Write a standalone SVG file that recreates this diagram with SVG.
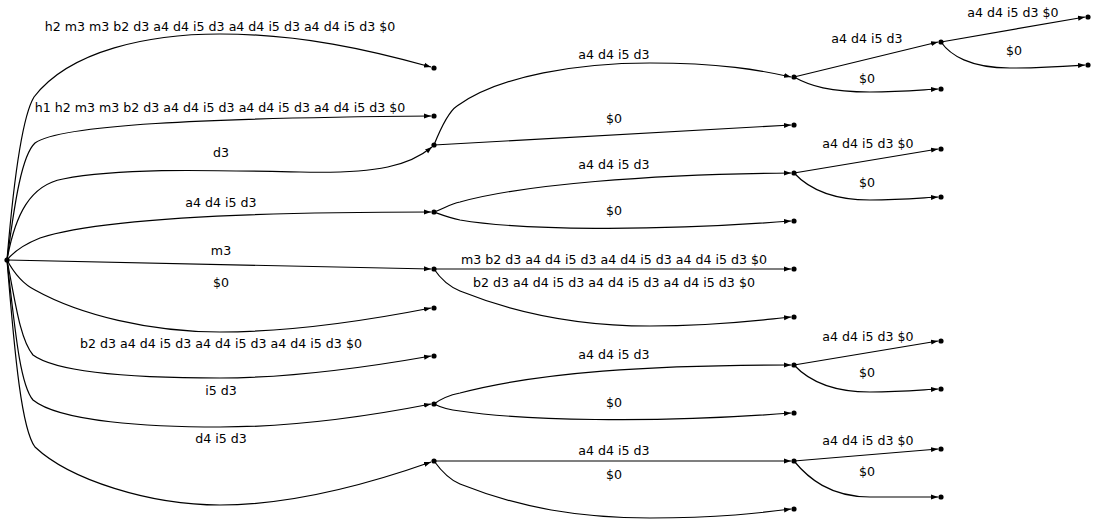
<svg xmlns="http://www.w3.org/2000/svg" width="1096" height="524" viewBox="0 0 1096 524">
<defs>
<marker id="ah" markerUnits="userSpaceOnUse" markerWidth="8" markerHeight="6" refX="7" refY="3" orient="auto">
<path d="M0,0.5 L7,3 L0,5.5 Z" fill="#000"/>
</marker>
<style>
.e{fill:none;stroke:#000;stroke-width:1.2;marker-end:url(#ah)}
.n{fill:#000}
text{font-family:"DejaVu Sans",sans-serif;font-size:12.6px;text-anchor:middle;fill:#000}
</style>
</defs>
<rect width="1096" height="524" fill="#fff"/>
<g id="connectors">
<path class="e" d="M7,260 C12,200 20,120 34,97 C70,50 150,34 220,34 C300,34 370,50 431,67"/>
<path class="e" d="M7,260 C15,200 22,155 35,143 C60,125 200,118 431,116"/>
<path class="e" d="M7,260 C15,215 30,185 63,179 C120,168 200,170 300,172 C380,174 410,165 432,147"/>
<path class="e" d="M7,260 C15,250 25,244 40,238 C100,218 250,212 431,212"/>
<path class="e" d="M7,260 L431,269"/>
<path class="e" d="M7,260 C15,275 25,285 35,290 C80,315 150,332 220,332 C300,332 380,318 431,308"/>
<path class="e" d="M7,260 C15,300 20,340 33,355 C60,375 150,378 220,378 C300,378 380,365 431,356"/>
<path class="e" d="M7,260 C15,330 20,385 33,400 C60,422 150,427 220,427 C300,427 380,414 431,404"/>
<path class="e" d="M7,260 C15,360 22,430 35,447 C70,480 150,505 220,505 C300,505 380,480 431,462"/>
<path class="e" d="M434,145 C440,130 448,112 457,106 C500,75 580,63 650,63 C720,63 760,70 791,77"/>
<path class="e" d="M434,145 L791,125"/>
<path class="e" d="M434,212 C445,208 450,204 460,202 C520,185 650,174 791,173"/>
<path class="e" d="M434,212 C445,216 450,218 460,220 C520,230 650,232 791,221"/>
<path class="e" d="M434,269 L791,269"/>
<path class="e" d="M434,269 C440,278 448,286 460,291 C520,315 580,326 650,326 C720,326 760,320 791,317"/>
<path class="e" d="M434,404 C442,398 450,395 460,393 C540,372 650,365 791,365"/>
<path class="e" d="M434,404 C442,408 450,410 460,411 C520,420 650,424 791,413"/>
<path class="e" d="M434,461 L791,461"/>
<path class="e" d="M434,461 C442,472 450,480 460,484 C520,508 580,518 650,518 C720,518 760,513 791,509"/>
<path class="e" d="M794,77 L938,42"/>
<path class="e" d="M794,77 C810,86 830,92 870,92 C900,92 920,90 938,89"/>
<path class="e" d="M794,173 L938,149"/>
<path class="e" d="M794,173 C808,188 830,200 870,200 C900,200 920,198 938,197"/>
<path class="e" d="M794,365 L938,341"/>
<path class="e" d="M794,365 C808,380 830,392 870,392 C900,392 920,390 938,389"/>
<path class="e" d="M794,461 L938,449"/>
<path class="e" d="M794,461 C808,478 830,497 870,497 C900,497 920,497 938,497"/>
<path class="e" d="M941,42 L1085,17"/>
<path class="e" d="M941,42 C950,55 970,68 1010,68 C1045,68 1070,66 1085,65"/>
</g>
<g id="labels">
<text x="220" y="31">h2 m3 m3 b2 d3 a4 d4 i5 d3 a4 d4 i5 d3 a4 d4 i5 d3 $0</text>
<text x="220" y="112">h1 h2 m3 m3 b2 d3 a4 d4 i5 d3 a4 d4 i5 d3 a4 d4 i5 d3 $0</text>
<text x="221" y="157">d3</text>
<text x="221" y="207">a4 d4 i5 d3</text>
<text x="221" y="255">m3</text>
<text x="221" y="287">$0</text>
<text x="221" y="348">b2 d3 a4 d4 i5 d3 a4 d4 i5 d3 a4 d4 i5 d3 $0</text>
<text x="221" y="395">i5 d3</text>
<text x="221" y="443">d4 i5 d3</text>
<text x="614" y="59">a4 d4 i5 d3</text>
<text x="614" y="123">$0</text>
<text x="614" y="169">a4 d4 i5 d3</text>
<text x="614" y="215">$0</text>
<text x="614" y="264">m3 b2 d3 a4 d4 i5 d3 a4 d4 i5 d3 a4 d4 i5 d3 $0</text>
<text x="614" y="287">b2 d3 a4 d4 i5 d3 a4 d4 i5 d3 a4 d4 i5 d3 $0</text>
<text x="614" y="359">a4 d4 i5 d3</text>
<text x="614" y="407">$0</text>
<text x="614" y="455">a4 d4 i5 d3</text>
<text x="614" y="479">$0</text>
<text x="867" y="43">a4 d4 i5 d3</text>
<text x="867" y="83">$0</text>
<text x="868" y="148">a4 d4 i5 d3 $0</text>
<text x="867" y="187">$0</text>
<text x="868" y="341">a4 d4 i5 d3 $0</text>
<text x="867" y="377">$0</text>
<text x="868" y="445">a4 d4 i5 d3 $0</text>
<text x="867" y="476">$0</text>
<text x="1013" y="17">a4 d4 i5 d3 $0</text>
<text x="1014" y="55">$0</text>
</g>
<g id="node-root"><circle class="n" cx="7" cy="260" r="2.6"/></g>
<g id="node-1"><circle class="n" cx="434" cy="68" r="2.6"/></g>
<g id="node-2"><circle class="n" cx="434" cy="116" r="2.6"/></g>
<g id="node-3"><circle class="n" cx="434" cy="145" r="2.6"/></g>
<g id="node-4"><circle class="n" cx="434" cy="212" r="2.6"/></g>
<g id="node-5"><circle class="n" cx="434" cy="269" r="2.6"/></g>
<g id="node-6"><circle class="n" cx="434" cy="308" r="2.6"/></g>
<g id="node-7"><circle class="n" cx="434" cy="356" r="2.6"/></g>
<g id="node-8"><circle class="n" cx="434" cy="404" r="2.6"/></g>
<g id="node-9"><circle class="n" cx="434" cy="461" r="2.6"/></g>
<g id="node-3a"><circle class="n" cx="794" cy="77" r="2.6"/></g>
<g id="node-3b"><circle class="n" cx="794" cy="125" r="2.6"/></g>
<g id="node-4a"><circle class="n" cx="794" cy="173" r="2.6"/></g>
<g id="node-4b"><circle class="n" cx="794" cy="221" r="2.6"/></g>
<g id="node-5a"><circle class="n" cx="794" cy="269" r="2.6"/></g>
<g id="node-5b"><circle class="n" cx="794" cy="317" r="2.6"/></g>
<g id="node-8a"><circle class="n" cx="794" cy="365" r="2.6"/></g>
<g id="node-8b"><circle class="n" cx="794" cy="413" r="2.6"/></g>
<g id="node-9a"><circle class="n" cx="794" cy="461" r="2.6"/></g>
<g id="node-9b"><circle class="n" cx="794" cy="509" r="2.6"/></g>
<g id="node-3aa"><circle class="n" cx="941" cy="42" r="2.6"/></g>
<g id="node-3ab"><circle class="n" cx="941" cy="89" r="2.6"/></g>
<g id="node-4aa"><circle class="n" cx="941" cy="149" r="2.6"/></g>
<g id="node-4ab"><circle class="n" cx="941" cy="197" r="2.6"/></g>
<g id="node-8aa"><circle class="n" cx="941" cy="341" r="2.6"/></g>
<g id="node-8ab"><circle class="n" cx="941" cy="389" r="2.6"/></g>
<g id="node-9aa"><circle class="n" cx="941" cy="449" r="2.6"/></g>
<g id="node-9ab"><circle class="n" cx="941" cy="497" r="2.6"/></g>
<g id="node-3aaa"><circle class="n" cx="1088" cy="17" r="2.6"/></g>
<g id="node-3aab"><circle class="n" cx="1088" cy="65" r="2.6"/></g>
</svg>
